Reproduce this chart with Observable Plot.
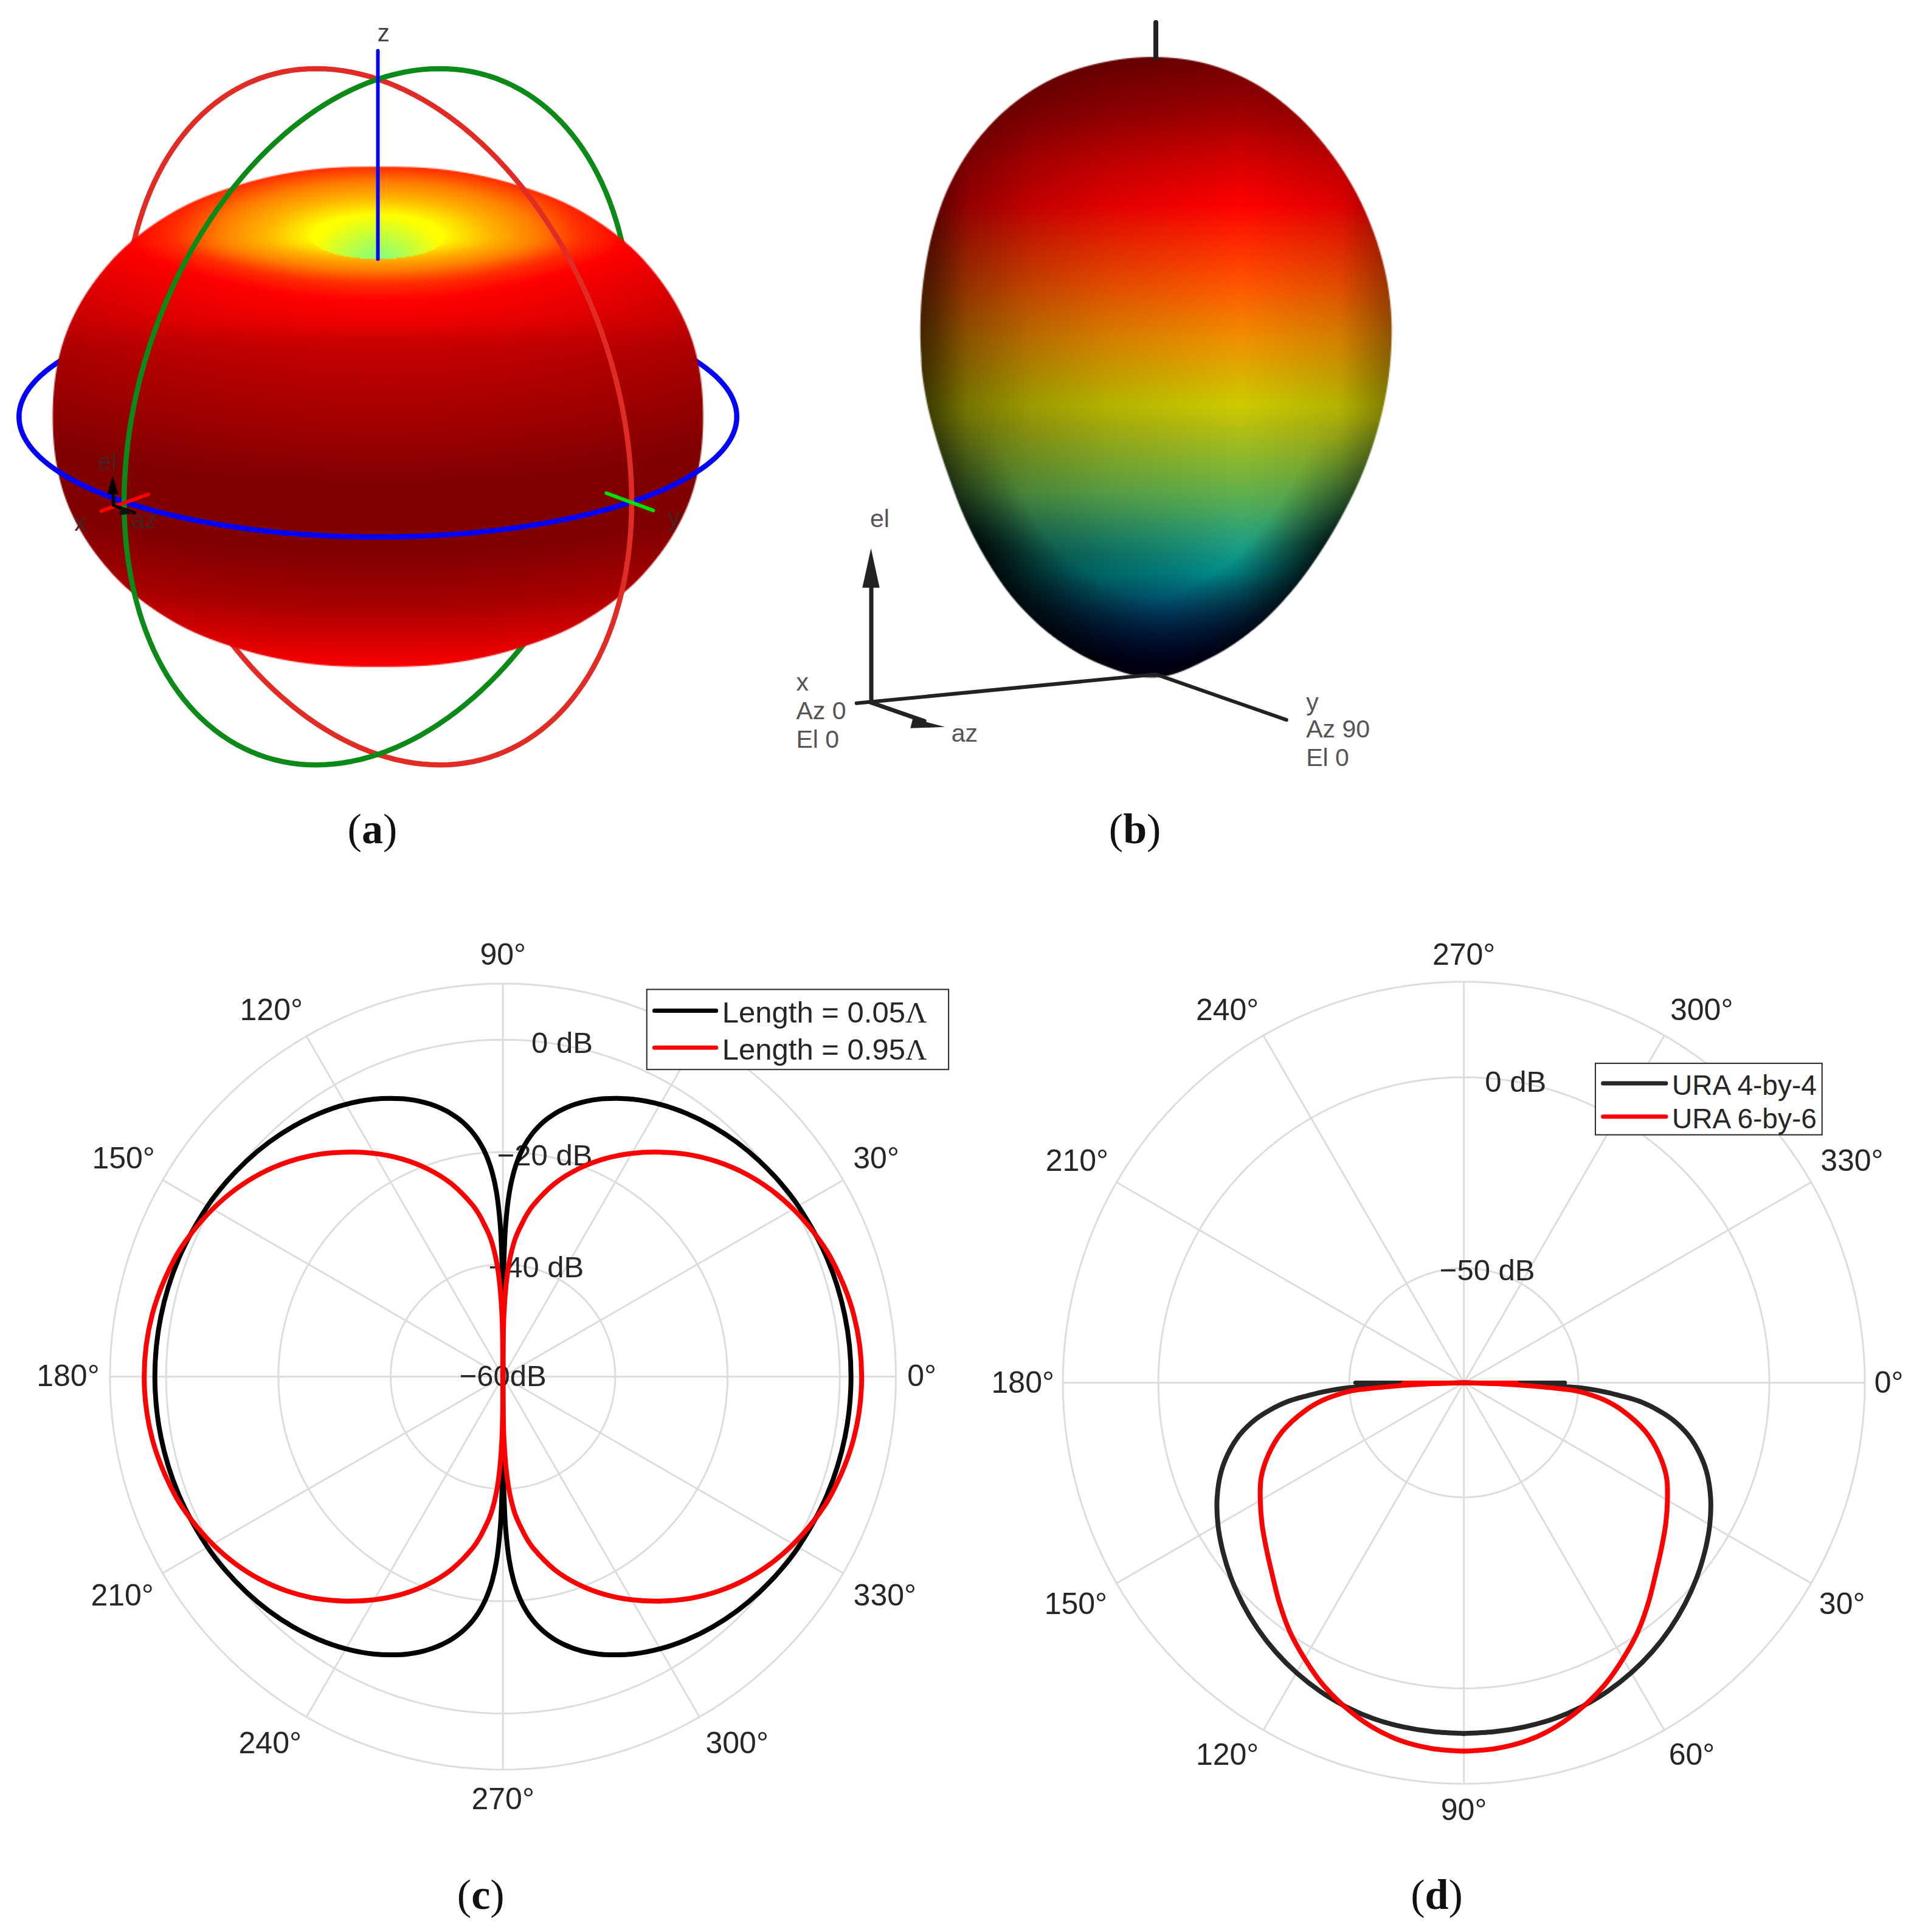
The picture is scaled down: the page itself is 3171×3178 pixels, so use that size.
<!DOCTYPE html>
<html><head><meta charset="utf-8">
<style>html,body{margin:0;padding:0;background:#fff}</style>
<script src="https://cdn.jsdelivr.net/npm/d3@7"></script>
<script src="https://cdn.jsdelivr.net/npm/@observablehq/plot@0.6"></script>
</head><body>
<div id="chart"></div>
<script>
// ---------- Panel (c): pattern readings per quadrant (elevation deg, dB) ----------
const cBlackEl = [90,89.7,89.5,89,88,87,86,85,84,83,82,81,80,79,78,77,76,75,74,72,70,65,60,55,50,45,40,35,30,20,10,0];
const cBlackDb = [-60,-44,-39.18,-33.16,-27.14,-23.62,-21.13,-19.19,-17.62,-16.28,-15.13,-14.11,-13.21,-12.39,-11.64,-10.96,-10.33,-9.74,-9.19,-8.2,-7.32,-5.48,-4.02,-2.83,-1.84,-1.01,-0.32,0.27,0.75,1.46,1.87,2];
const cRedEl = [90,89.5,89,88,87,86,85,84,83,82,81,80,75,70,65,60,55,50,45,40,35,30,25,20,10,0];
const cRedDb = [-60,-52.5,-48.5,-43.5,-40,-37.5,-35.5,-34,-32.7,-31.3,-30.1,-29,-24.4,-20.6,-17.2,-14.1,-11.2,-8.4,-5.9,-3.7,-1.85,-0.3,1,2.1,3.45,3.9];
const cRings = [-40,-20,0,10];
const cTicks = ["0°","30°","120°","150°","180°","210°","240°","270°","300°","330°","90°"];
const cTickX = [748,711,220,100,55,99,219,408,598,718,408];
const cTickY = [1117,940,820,940,1117,1295,1415,1460,1415,1295,775];
const cDbLabels = ["0 dB","−20 dB","−40 dB","−60dB"];
const cDbLabelValues = [0,-20,-40,-60];
const cLegend = ["Length = 0.05Λ","Length = 0.95Λ"];

// ---------- Panel (d): pattern readings per half (angle deg, dB) ----------
const dBlackA  = [0,1.5,2,2.5,3.5,4.8,6,8,10,13,16,20,25,30,35,40,45,50,55,60,65,70,75,80,85,90];
const dBlackDb = [-80,-67.1,-59,-49.35,-44,-38.61,-33.87,-28.71,-24.52,-19.84,-16.29,-12.42,-8.71,-5.65,-2.97,-0.45,1.87,4.03,5.97,7.65,9.1,10.26,11.06,11.48,11.71,11.81];
const dRedA  = [0,2,3,4,5,7,10,15,20,25,30,35,40,45,50,55,60,65,70,75,80,85,90];
const dRedDb = [-80,-68.7,-60,-50.97,-47.74,-42.9,-37.74,-30.81,-25.65,-21.45,-18.45,-15.48,-12.48,-9.03,-4.84,-0.52,3.39,7.26,10.48,13.23,15.16,16.13,16.45];
const dRings = [-50,0,25];
const dTicks = ["0°","30°","60°","90°","120°","150°","180°","210°","240°","270°","300°","330°"];
const dTickX = [1533,1495,1373,1188,996,873,830,874,996,1188,1381,1503];
const dTickY = [1122,1302,1424,1469,1424,1302,1122,942,820,775,820,942];
const dLegend = ["URA 4-by-4","URA 6-by-6"];

// ---------- Panel (a): silhouette radius by polar angle, colour tables ----------
const aPhi = [-15,0,15,30,45,60,75,90,105];
const aRadius = [262,264,262,251,235,218.5,207.7,203,207.7];
const aUpperT = [0,18,32,44,57,70,120,155,199];
const aUpperP = [.6,.625,.70,.75,.83,.875,.93,.96,1];
const aFrontDy = [0,18,30,38,51,68,88,121,157,201,400];
const aFrontEq = [0,32,48,57,69,85,118,143,166,199,400];
const aLowerD = [197,243,291,330];
const aLowerP = [1,.96,.88,.84];
const jetP = [.5,.625,.75,.875,1];
const jetC = ["#80ff80","#ffff00","#ff8000","#ff0000","#800000"];

// ---------- Panel (b): silhouette radius by polar angle, colour and light tables ----------
const bPhi = [-190,-180,-170,-160,-150,-140,-130,-120,-110,-100,-90,-80,-70,-60,-50,-40,-30,-20,-10,0,10,20,30,40,50,60,70,80,90,100,110,120,130,140,150,160,170,180,190];
const bRadius = [189.5,190.5,189.5,190,194,202.5,214,228,241.5,253,259.5,248,234,219.5,207,198,192.5,189.5,189,190.5,194,198.5,204,211,219,228,236.5,242,244,243.5,241.5,236,228,218.5,208.5,200,194,190.5,189];
const bColorY = [46,97,131,166,200,233,274,329,345,403,440,465,499,539,550];
const bColorC = ["#700000","#a50000","#d80000","#ff0000","#ff3000","#ff5800","#f09000","#cccc00","#b8c010","#5cb050","#20a080","#009090","#004878","#000050","#000050"];
const bLightU = [0,.03,.1,.235,.4,.68,.89,.96,1];
const bLightV = [.28,.35,.58,.76,.88,1,.88,.7,.6];

// ---------- Geometry of each panel in the coordinate frame of the figure ----------
const C = {x:408, y:1117, k:4.557, zero:60};
const D = {x:1188, y:1122, k:3.1, zero:80};
const A = {x:306.5, y:338};
const B = {x:938, y:290};
const polarC = (deg,db) => ({x:C.x+(db+C.zero)*C.k*Math.cos(deg*Math.PI/180), y:C.y-(db+C.zero)*C.k*Math.sin(deg*Math.PI/180)});
const polarD = (deg,db) => ({x:D.x+(db+D.zero)*D.k*Math.cos(deg*Math.PI/180), y:D.y+(db+D.zero)*D.k*Math.sin(deg*Math.PI/180)});

function smooth(xs, ys){
  const n = xs.length, m = xs.map((_,i)=>{
    const a=Math.max(i-1,0), b=Math.min(i+1,n-1);
    return (ys[b]-ys[a])/(xs[b]-xs[a]);
  });
  return x=>{
    if (x<=xs[0]) return ys[0];
    if (x>=xs[n-1]) return ys[n-1];
    const i=Math.min(d3.bisectRight(xs,x),n-1)-1, h=xs[i+1]-xs[i], t=(x-xs[i])/h, t2=t*t, t3=t2*t;
    return (2*t3-3*t2+1)*ys[i]+(t3-2*t2+t)*h*m[i]+(-2*t3+3*t2)*ys[i+1]+(t3-t2)*h*m[i+1];
  };
}
const clamp01 = v => Math.max(0,Math.min(1,v));
const rA = smooth(aPhi,aRadius), rB = smooth(bPhi,bRadius);
const upperP = d3.scaleLinear(aUpperT,aUpperP).clamp(true);
const frontEq = smooth(aFrontDy,aFrontEq);
const lowerP = d3.scaleLinear(aLowerD,aLowerP).clamp(true);
const jet = d3.scaleLinear(jetP,jetC).clamp(true);
const jetTable = d3.range(0,1025).map(i=>d3.rgb(jet(.5+.5*i/1024)).formatRgb());
const bColor = d3.scaleLinear(bColorY,bColorC).clamp(true);
const bTable = d3.range(46,551).map(y=>d3.rgb(bColor(y)));
const bLight = d3.scaleLinear(bLightU,bLightV).clamp(true);

function fillA(x,y){
  const dx=x-A.x;
  let p;
  if (Math.hypot(dx/54,(y-192)/18)<1) {
    p=.5+.125*Math.min(1,Math.hypot(dx/54,(210-y)/36));
  } else {
    const dy=y-192, t=Math.hypot(dx/2.9, dy<0 ? dy : frontEq(dy));
    p=Math.min(upperP(t),lowerP(Math.hypot(dx/2.5,y-250)));
  }
  return jetTable[Math.round((p-.5)*2048)];
}
function opacityA(x,y){
  const dx=x-A.x, dy=y-A.y, rho=Math.hypot(dx,dy);
  return clamp01(rA(Math.atan2(Math.abs(dy),Math.abs(dx))*180/Math.PI)-rho+.5);
}
function fillB(x,y){
  const dx=x-B.x, dy=B.y-y, rho=Math.hypot(dx,dy);
  const edge=rB(Math.atan2(dy,dx)*180/Math.PI);
  const c=bTable[Math.max(0,Math.min(bTable.length-1,Math.round(y-46)))];
  const u=(x-747)/382;
  let l=bLight(u);
  const q=Math.min(1,rho/edge), w=clamp01((y-340)/100), w2=clamp01((y-400)/50);
  if (u<.68) l*=1-w2*.45*(1-u/.68);
  if (q>.75) l*=1-w*.8*(q-.75)/.25;
  return `rgb(${Math.round(c.r*l)},${Math.round(c.g*l)},${Math.round(c.b*l)})`;
}
function opacityB(x,y){
  const dx=x-B.x, dy=B.y-y;
  return clamp01(rB(Math.atan2(dy,dx)*180/Math.PI)-Math.hypot(dx,dy)+.5);
}

// ---------- Spherical rings of panel (a): axis directions as seen on the page ----------
const axX = [-206,69], axY = [206,69], axZ = [0,-274];
const arc = (u0,u1,a,b) => d3.range(u0,u1+1,2).map(u=>{
  const c=Math.cos(u*Math.PI/180), s=Math.sin(u*Math.PI/180);
  return {x:A.x+c*a[0]+s*b[0], y:A.y+c*a[1]+s*b[1]};
});
const ringLine = (pts,stroke,w=8.5) => Plot.line(pts,{x:"x",y:"y",stroke,strokeWidth:w});

// ---------- Assembling polar curves ----------
function lobes(els,dbs,poly){
  const out=[];
  const right=[...els.map((e,i)=>[e,dbs[i]]), ...els.slice(0,-1).reverse().map((e,i,arr)=>[-e,dbs[arr.length-1-i]])];
  right.forEach(([e,db])=>out.push({...poly(e,db),z:"r"}));
  right.forEach(([e,db])=>out.push({...poly(180-e,db),z:"l"}));
  return out;
}
function halves(as,dbs,poly){
  const out=[];
  as.forEach((a,i)=>out.push({...poly(a,dbs[i]),z:"r"}));
  as.forEach((a,i)=>out.push({...poly(180-a,dbs[i]),z:"l"}));
  return out;
}
const curveMark = (pts,stroke) => Plot.line(pts,{x:"x",y:"y",z:"z",stroke,strokeWidth:8,curve:"catmull-rom"});
const gridColor = "#dddddd";
const ringPts = (dbs,poly)=>dbs.flatMap(db=>d3.range(0,361,2).map(a=>({...poly(a,db),db})));
const spokes = (poly,top)=>d3.range(0,360,30).map(a=>{
  const p=poly(a,top), o=poly(a,poly===polarC?-C.zero:-D.zero);
  return {x1:o.x,y1:o.y,x2:p.x,y2:p.y};
});
const gridMarks = (dbs,poly)=>[
  Plot.line(ringPts(dbs,poly),{x:"x",y:"y",z:"db",stroke:gridColor,strokeWidth:3}),
  Plot.link(spokes(poly,dbs[dbs.length-1]),{x1:"x1",y1:"y1",x2:"x2",y2:"y2",stroke:gridColor,strokeWidth:3})
];
const textMark = (rows,opts={}) => Plot.text(rows,{x:"x",y:"y",text:"t",fill:"#262626",fontSize:50,textAnchor:"middle",lineAnchor:"middle",...opts});
const tickRows = (names,xs,ys)=>names.map((t,i)=>({t,x:xs[i],y:ys[i]}));
const tri = (ax,ay,bx,by,cx,cy) => [{x1:ax,y1:ay,x2:ax,y2:ay},{x1:bx,y1:by,x2:cx,y2:cy}];
const triMark = (rows,fill)=>Plot.area(rows,{x1:"x1",y1:"y1",x2:"x2",y2:"y2",fill});
const seg = (pts,stroke,w)=>Plot.line(pts.map(([x,y])=>({x,y})),{x:"x",y:"y",stroke,strokeWidth:w});

const marks = [
  // (a) back halves of the rings, then the surface, then the front halves
  ringLine(arc(135,315,axY,axX),"#0000ff"),
  ringLine(arc(118,298,axY,axZ),"#e02c24"),
  ringLine(arc(118,298,axX,axZ),"#0c8a18"),
  Plot.raster({x1:35,x2:580,y1:125,y2:550,pixelSize:2,fill:fillA,fillOpacity:opacityA}),
  ringLine(arc(-45,135,axY,axX),"#0000ff"),
  ringLine(arc(-62,118,axY,axZ),"#e02c24"),
  ringLine(arc(-62,118,axX,axZ),"#0c8a18"),
  seg([[306.5,41],[306.5,210]],"#0000ff",6),
  seg([[82,414.5],[120,401]],"#ff0000",6),
  seg([[492,400],[530,414]],"#00e000",6),
  seg([[91.5,398],[91.8,410],[109,416]],"#000",5),
  triMark(tri(91.4,386,87,401,96,401),"#000"),
  triMark(tri(110,416.5,98,412,97,418),"#111"),
  textMark([{x:311,y:27,t:"z"}],{fontSize:40,fill:"#444"}),
  textMark([{x:65,y:424,t:"x"},{x:87,y:375,t:"el"},{x:117,y:422,t:"az"},{x:547,y:420,t:"y"}],{fontSize:40,fill:"#4a2020"}),

  // (b)
  Plot.raster({x1:740,x2:1136,y1:40,y2:555,pixelSize:2,fill:fillB,fillOpacity:opacityB}),
  seg([[938,18],[938,47]],"#222",8),
  seg([[695,570.5],[938,547]],"#222",6),
  seg([[938,547],[1044,584]],"#222",6),
  seg([[707,477],[707,570]],"#222",7),
  seg([[707,570],[750,585]],"#222",7),
  triMark(tri(707,445,700,477,714,477),"#222"),
  triMark(tri(767,590,741,583,739,591),"#222"),
  textMark([{x:706,y:421,t:"el"},{x:772,y:595,t:"az"},{x:646,y:554,t:"x"},{x:646,y:577,t:"Az 0"},{x:646,y:600,t:"El 0"},{x:1060,y:570,t:"y"},{x:1060,y:592,t:"Az 90"},{x:1060,y:615,t:"El 0"}],{fontSize:41,fill:"#555",textAnchor:"start"}),

  // (c)
  ...gridMarks(cRings,polarC),
  textMark(tickRows(cTicks,cTickX,cTickY)),
  textMark(cDbLabels.map((t,i)=>({t,y:C.y-(cDbLabelValues[i]+C.zero)*C.k+(i<3?3:0),x:[456,442,435,408][i]})),{fontSize:49}),
  curveMark(lobes(cBlackEl,cBlackDb,polarC),"#000000"),
  curveMark(lobes(cRedEl,cRedDb,polarC),"#ff0000"),
  Plot.rect([{x1:525,x2:770,y1:803,y2:868}],{x1:"x1",x2:"x2",y1:"y1",y2:"y2",fill:"#fff",stroke:"#262626",strokeWidth:2}),
  seg([[531,820],[581,820]],"#000",7),
  seg([[531,850],[581,850]],"#ff0000",7),
  textMark(cLegend.map((t,i)=>({t,x:586,y:[822,852][i]})),{textAnchor:"start",fontSize:49}),

  // (d)
  ...gridMarks(dRings,polarD),
  textMark(tickRows(dTicks,dTickX,dTickY)),
  textMark([{t:"0 dB",x:1230,y:878},{t:"−50 dB",x:1207,y:1031}],{fontSize:49}),
  curveMark(halves(dBlackA,dBlackDb,polarD),"#262626"),
  seg([[D.x,D.y],[D.x+82,D.y]],"#262626",7),
  seg([[D.x,D.y],[D.x-88,D.y]],"#262626",7),
  curveMark(halves(dRedA,dRedDb,polarD),"#ff0000"),
  seg([[D.x,D.y],[D.x+43,D.y]],"#ff0000",7),
  seg([[D.x,D.y],[D.x-49,D.y]],"#ff0000",7),
  Plot.rect([{x1:1295,x2:1479,y1:863,y2:921}],{x1:"x1",x2:"x2",y1:"y1",y2:"y2",fill:"#fff",stroke:"#262626",strokeWidth:2}),
  seg([[1301,879],[1352,879]],"#262626",7),
  seg([[1301,906],[1352,906]],"#ff0000",7),
  textMark(dLegend.map((t,i)=>({t,x:1357,y:[881,908][i]})),{textAnchor:"start",fontSize:46}),

  // sub-figure captions
  textMark([{t:"(a)",x:302,y:673},{t:"(b)",x:921,y:673},{t:"(c)",x:390,y:1538},{t:"(d)",x:1166,y:1538}],
    {fontSize:70,fill:"#111",fontFamily:"Liberation Serif"})
];

const chart = Plot.plot({
  width:3171, height:3178, margin:0,
  x:{domain:[0,1565],range:[0,3171],axis:null},
  y:{domain:[0,1568],range:[0,3178],axis:null},
  style:{fontFamily:"Liberation Sans",background:"#fff"},
  marks
});
chart.querySelectorAll("text").forEach(t=>{
  const s=t.textContent;
  const ns="http://www.w3.org/2000/svg";
  if (/^\(.\)$/.test(s)) {
    t.textContent="";
    const b=document.createElementNS(ns,"tspan"); b.setAttribute("font-weight","700"); b.textContent=s[1];
    t.append("(",b,")");
  } else if (s.endsWith("Λ")) {
    t.textContent=s.slice(0,-1);
    const b=document.createElementNS(ns,"tspan"); b.setAttribute("font-family","Liberation Serif"); b.textContent="Λ";
    t.append(b);
  }
});
document.getElementById("chart").append(chart);
</script>
</body></html>
